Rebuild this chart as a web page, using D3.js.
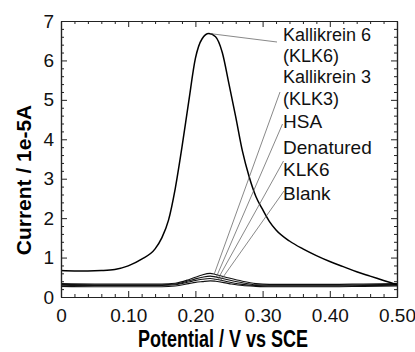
<!DOCTYPE html>
<html>
<head>
<meta charset="utf-8">
<script src="https://cdn.jsdelivr.net/npm/d3@7"></script>
<style>
	body { margin: 0; background: #fff; }
	svg { display: block; font-family: 'Liberation Sans', Arial, sans-serif; }
	.axis path, .axis line { stroke: #222; }
	.axis text { font-size: 19px; fill: #111; }
</style>
</head>
<body>
<svg class="voltammogram" width="415" height="352"></svg>
<script>
// potentials (V vs SCE) used by each trace
let potentialKLK6 = [0, 0.02, 0.04, 0.06, 0.08, 0.10, 0.12, 0.14, 0.15, 0.16, 0.17, 0.18, 0.19, 0.20, 0.21, 0.22, 0.23, 0.24, 0.25, 0.26, 0.27, 0.28, 0.29, 0.30, 0.31, 0.32, 0.34, 0.36, 0.38, 0.40, 0.42, 0.44, 0.46, 0.48, 0.50];
let currentKLK6 = [0.67, 0.66, 0.66, 0.67, 0.70, 0.79, 0.96, 1.22, 1.50, 1.95, 2.75, 3.80, 4.95, 6.05, 6.55, 6.68, 6.60, 6.20, 5.40, 4.57, 3.70, 3.05, 2.55, 2.22, 1.92, 1.70, 1.42, 1.22, 1.05, 0.90, 0.77, 0.64, 0.53, 0.42, 0.31];

let potentialSmall = [0, 0.05, 0.10, 0.15, 0.17, 0.19, 0.20, 0.21, 0.222, 0.23, 0.25, 0.27, 0.29, 0.31, 0.35, 0.40, 0.45, 0.50];
let currentKLK3 = [0.34, 0.33, 0.33, 0.33, 0.35, 0.44, 0.50, 0.56, 0.60, 0.57, 0.48, 0.40, 0.34, 0.32, 0.32, 0.32, 0.33, 0.34];
let currentHSA = [0.32, 0.31, 0.31, 0.31, 0.33, 0.41, 0.46, 0.50, 0.53, 0.51, 0.43, 0.36, 0.31, 0.30, 0.30, 0.30, 0.31, 0.32];
let currentDenatured = [0.30, 0.29, 0.29, 0.29, 0.31, 0.38, 0.42, 0.45, 0.47, 0.45, 0.38, 0.32, 0.29, 0.28, 0.28, 0.28, 0.29, 0.30];
let currentBlank = [0.27, 0.26, 0.26, 0.26, 0.28, 0.34, 0.37, 0.39, 0.41, 0.40, 0.34, 0.29, 0.27, 0.26, 0.26, 0.26, 0.27, 0.28];

// label text and the point of each trace its leader line points at
let labelText = [['Kallikrein 6', '(KLK6)'], ['Kallikrein 3', '(KLK3)'], ['HSA'], ['Denatured', 'KLK6'], ['Blank']];
let leaderPotential = [0.222, 0.228, 0.231, 0.233, 0.236];
let leaderCurrent = [6.68, 0.58, 0.50, 0.44, 0.38];

let xMajor = [0, 0.1, 0.2, 0.3, 0.4, 0.5];
let yMajor = [0, 1, 2, 3, 4, 5, 6, 7];

let margin = { top: 21, right: 18, bottom: 55, left: 61 };
let width = 415 - margin.left - margin.right;
let height = 352 - margin.top - margin.bottom;

let x = d3.scaleLinear().domain([0, 0.5]).range([0, width]);
let y = d3.scaleLinear().domain([0, 7]).range([height, 0]);

let svg = d3.select('.voltammogram');
let g = svg.append('g').attr('transform', 'translate(' + margin.left + ',' + margin.top + ')');

let xMinor = d3.range(0, 51, 2).map(function(d) { return d / 100; }).filter(function(d) { return Math.round(d * 100) % 10 !== 0; });
let yMinor = d3.range(0, 36).map(function(d) { return d / 5; }).filter(function(d) { return Math.round(d * 5) % 5 !== 0; });

function xFormat(d) { return d === 0 ? '0' : d3.format('.2f')(d); }

// axes, ticks pointing inwards on all four sides
function drawAxes() {
	g.append('g').attr('class', 'axis')
		.attr('transform', 'translate(0,' + height + ')')
		.call(d3.axisBottom(x).tickValues(xMajor).tickFormat(xFormat).tickSizeInner(-6).tickSizeOuter(0).tickPadding(12));
	g.append('g').attr('class', 'axis')
		.attr('transform', 'translate(0,' + height + ')')
		.call(d3.axisBottom(x).tickValues(xMinor).tickFormat('').tickSizeInner(-3).tickSizeOuter(0));

	g.append('g').attr('class', 'axis')
		.call(d3.axisTop(x).tickValues(xMajor).tickFormat('').tickSizeInner(-6).tickSizeOuter(0));
	g.append('g').attr('class', 'axis')
		.call(d3.axisTop(x).tickValues(xMinor).tickFormat('').tickSizeInner(-3).tickSizeOuter(0));

	g.append('g').attr('class', 'axis')
		.call(d3.axisLeft(y).tickValues(yMajor).tickFormat(d3.format('d')).tickSizeInner(-6).tickSizeOuter(0).tickPadding(7));
	g.append('g').attr('class', 'axis')
		.call(d3.axisLeft(y).tickValues(yMinor).tickFormat('').tickSizeInner(-3).tickSizeOuter(0));

	g.append('g').attr('class', 'axis')
		.attr('transform', 'translate(' + width + ',0)')
		.call(d3.axisRight(y).tickValues(yMajor).tickFormat('').tickSizeInner(-6).tickSizeOuter(0));
	g.append('g').attr('class', 'axis')
		.attr('transform', 'translate(' + width + ',0)')
		.call(d3.axisRight(y).tickValues(yMinor).tickFormat('').tickSizeInner(-3).tickSizeOuter(0));

	g.selectAll('.axis .domain').attr('stroke-width', 1.2);

	// axis titles
	g.append('text')
		.attr('x', 162)
		.attr('y', height + 50)
		.attr('text-anchor', 'middle')
		.attr('textLength', 170)
		.attr('lengthAdjust', 'spacingAndGlyphs')
		.style('font-family', "'Liberation Sans Narrow', 'Liberation Sans', Arial, sans-serif")
		.style('font-weight', 'bold')
		.style('font-size', '23px')
		.text('Potential / V vs SCE');

	g.append('text')
		.attr('transform', 'translate(-30,' + (height / 2 + 21) + ') rotate(-90)')
		.attr('text-anchor', 'middle')
		.style('font-weight', 'bold')
		.style('font-size', '21px')
		.text('Current / 1e-5A');
}

function drawTraces() {
	let line = d3.line()
		.x(function(d) { return x(d[0]); })
		.y(function(d) { return y(d[1]); })
		.curve(d3.curveMonotoneX);

	let small = [currentKLK3, currentHSA, currentDenatured, currentBlank];
	small.forEach(function(values) {
		g.append('path')
			.datum(d3.zip(potentialSmall, values))
			.attr('fill', 'none')
			.attr('stroke', '#111')
			.attr('stroke-width', 1.1)
			.attr('d', line);
	});

	g.append('path')
		.datum(d3.zip(potentialKLK6, currentKLK6))
		.attr('fill', 'none')
		.attr('stroke', '#000')
		.attr('stroke-width', 1.5)
		.attr('d', line);
}

// labels on the right with thin leader lines down to each trace
function drawLabels() {
	let labelX = 222;
	let baselines = [[20, 41], [62, 84], [107], [133, 155], [179]];
	let leaderTop = [[216, 21], [219, 71], [221.5, 103], [222.5, 140], [223, 170]];

	labelText.forEach(function(lines, i) {
		g.append('line')
			.attr('x1', leaderTop[i][0])
			.attr('y1', leaderTop[i][1])
			.attr('x2', x(leaderPotential[i]))
			.attr('y2', y(leaderCurrent[i]))
			.attr('stroke', '#555')
			.attr('stroke-width', 0.7);

		lines.forEach(function(t, j) {
			g.append('text')
				.attr('x', labelX)
				.attr('y', baselines[i][j])
				.style('font-size', i < 2 ? '18px' : '19px')
				.style('fill', '#111')
				.text(t);
		});
	});
}

drawTraces();
drawLabels();
drawAxes();
</script>
</body>
</html>
